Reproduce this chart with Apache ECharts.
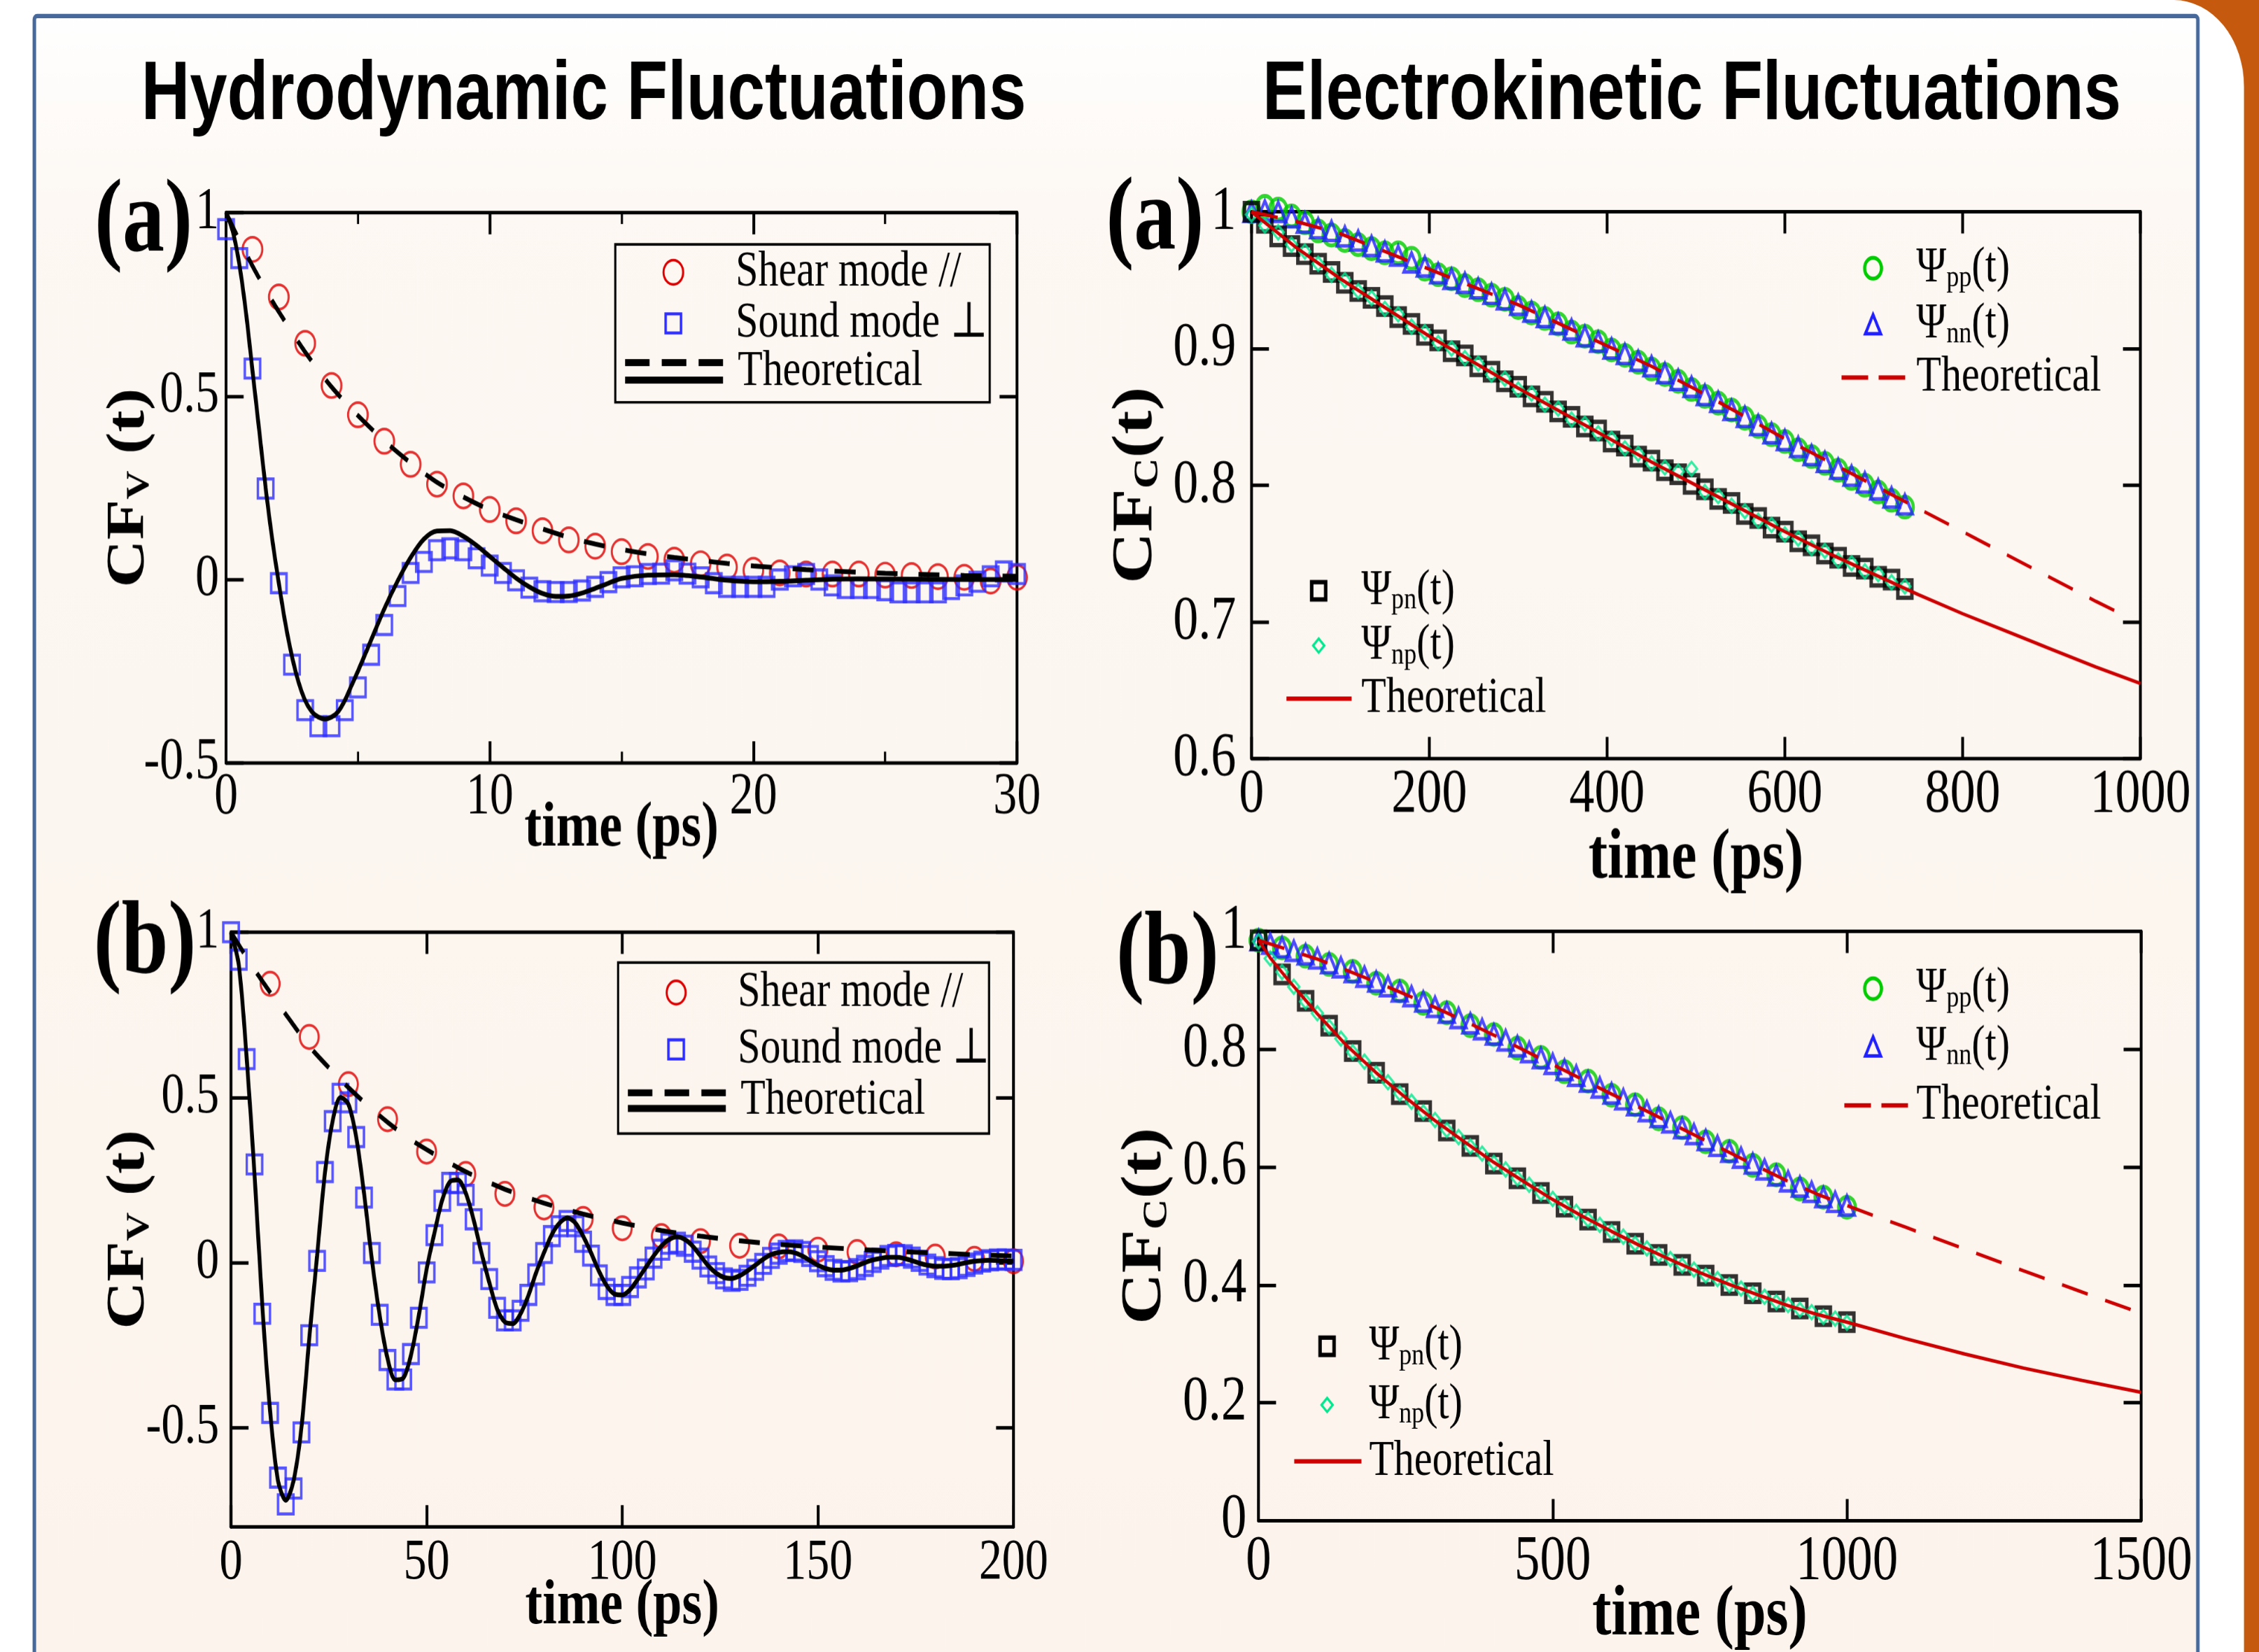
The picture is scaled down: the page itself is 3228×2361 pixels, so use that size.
<!DOCTYPE html>
<html>
<head>
<meta charset="utf-8">
<script src="https://cdn.jsdelivr.net/npm/echarts@6/dist/echarts.min.js"></script>
<style>
  html, body { margin: 0; padding: 0; background: #fff; }
  #wrap { width: 3228px; height: 2361px; overflow: hidden; position: relative; }
  /* the source figure is stretched vertically, so draw flat and stretch */
  #chart { width: 3228px; height: 1904px; transform: scaleY(1.24); transform-origin: 0 0; }
</style>
</head>
<body>
<div id="wrap"><div id="chart"></div></div>
<script>
const SERIF = "'Liberation Serif', 'DejaVu Serif', serif"
const SANS = "'Liberation Sans', Arial, sans-serif"

// ---- Hydrodynamic (a): 0-30 ps ----
const tShearA = [1,2,3,4,5,6,7,8,9,10,11,12,13,14,15,16,17,18,19,20,21,22,23,24,25,26,27,28,29,30]
const shearA = [0.90,0.77,0.644,0.529,0.449,0.377,0.314,0.26,0.228,0.191,0.16,0.133,0.108,0.091,0.076,0.063,0.053,0.043,0.034,0.025,0.018,0.015,0.015,0.015,0.012,0.011,0.008,0.006,-0.004,0.006]
const tSoundA = [0,0.5,1,1.5,2,2.5,3,3.5,4,4.5,5,5.5,6,6.5,7,7.5,8,8.5,9,9.5,10,10.5,11,11.5,12,12.5,13,13.5,14,14.5,15,15.5,16,16.5,17,17.5,18,18.5,19,19.5,20,20.5,21,21.5,22,22.5,23,23.5,24,24.5,25,25.5,26,26.5,27,27.5,28,28.5,29,29.5,30]
const soundA = [0.955,0.876,0.575,0.248,-0.01,-0.232,-0.356,-0.40,-0.40,-0.356,
  -0.294,-0.205,-0.124,-0.045,0.018,0.048,0.08,0.085,0.08,0.058,
  0.038,0.018,-0.002,-0.022,-0.032,-0.034,-0.034,-0.03,-0.02,-0.007,
  0.006,0.009,0.015,0.016,0.025,0.016,0.006,-0.01,-0.02,-0.02,
  -0.02,-0.02,0,0.009,0.015,0,-0.016,-0.023,-0.023,-0.023,
  -0.029,-0.035,-0.035,-0.035,-0.035,-0.026,-0.016,-0.006,0.009,0.022,0.015]
const tShearThA = [0,0.5,1,1.5,2,3,4,5,6,7,8,9,10,11,12,13,14,15,16,17,18,19,20,21,22,23,24,25,26,27,28,29,30]
const shearThA = [1.0,0.925,0.855,0.79,0.73,0.62,0.525,0.447,0.378,0.318,0.265,0.225,0.19,0.163,0.138,0.115,0.097,0.082,0.07,0.06,0.052,0.044,0.037,0.032,0.027,0.023,0.02,0.017,0.015,0.013,0.011,0.01,0.009]
const tSoundThA = [0,0.25,0.5,0.75,1,1.25,1.5,1.75,2,2.25,2.5,2.75,3,3.25,3.5,3.75,4,4.25,4.5,4.75,5,5.5,6,6.5,7,7.5,8,8.5,9,9.5,10,10.5,11,11.5,12,12.5,13,13.5,14,14.5,15,16,17,18,19,20,21,22,23,24,26,28,30]
const soundThA = [1.0,0.95,0.86,0.73,0.57,0.41,0.25,0.11,-0.01,-0.12,-0.21,-0.28,-0.33,-0.36,-0.375,-0.38,-0.375,-0.36,-0.33,-0.29,
  -0.25,-0.165,-0.08,-0.005,0.06,0.11,0.132,0.133,0.118,0.093,0.063,0.033,0.004,-0.02,-0.038,-0.046,-0.045,-0.037,-0.024,-0.01,0.003,
  0.012,0.013,0.007,-0.002,-0.006,-0.005,-0.002,0.001,0.002,0.001,0,0]

// ---- Hydrodynamic (b): 0-200 ps ----
const tShearB = [10,20,30,40,50,60,70,80,90,100,110,120,130,140,150,160,170,180,190,200]
const shearB = [0.844,0.683,0.54,0.434,0.336,0.268,0.208,0.167,0.132,0.104,0.08,0.065,0.051,0.049,0.039,0.032,0.025,0.018,0.011,0.004]
const tSoundB = [0,2,4,6,8,10,12,14,16,18,20,22,24,26,28,30,32,34,36,38,
  40,42,44,46,48,50,52,54,56,58,60,62,64,66,68,70,72,74,76,78,
  80,82,84,86,88,90,92,94,96,98,100,102,104,106,108,110,112,114,116,118,
  120,122,124,126,128,130,132,134,136,138,140,142,144,146,148,150,152,154,156,158,
  160,162,164,166,168,170,172,174,176,178,180,182,184,186,188,190,192,194,196,198,200]
const soundB = [1.0,0.917,0.616,0.297,-0.155,-0.455,-0.651,-0.732,-0.684,-0.514,
  -0.22,0.005,0.274,0.428,0.511,0.485,0.38,0.197,0.029,-0.158,
  -0.295,-0.354,-0.354,-0.277,-0.167,-0.03,0.083,0.187,0.241,0.241,
  0.205,0.131,0.029,-0.05,-0.137,-0.175,-0.175,-0.146,-0.098,-0.036,
  0.029,0.08,0.11,0.126,0.11,0.063,0.021,-0.039,-0.08,-0.098,
  -0.098,-0.074,-0.045,-0.021,0.015,0.039,0.057,0.06,0.051,0.033,
  0.012,-0.012,-0.032,-0.048,-0.055,-0.052,-0.04,-0.022,-0.004,0.014,
  0.027,0.035,0.037,0.032,0.02,0.004,-0.011,-0.022,-0.027,-0.026,
  -0.02,-0.01,0.002,0.012,0.02,0.023,0.022,0.015,0.005,-0.006,
  -0.014,-0.019,-0.02,-0.017,-0.01,-0.003,0.003,0.007,0.009,0.009,0.008]
const tShearThB = [0,5,10,15,20,25,30,35,40,45,50,60,70,80,90,100,110,120,130,140,150,160,170,180,190,200]
const shearThB = [1.0,0.905,0.818,0.735,0.655,0.59,0.53,0.475,0.425,0.38,0.342,0.275,0.222,0.18,0.147,0.12,0.097,0.08,0.066,0.055,0.047,0.04,0.034,0.029,0.024,0.02]
const soundThB = [1.0,0.90,0.62,0.27,-0.13,-0.45,-0.66,-0.72,-0.66,-0.50,
  -0.23,0.02,0.27,0.43,0.50,0.48,0.38,0.21,0.01,-0.16,
  -0.29,-0.355,-0.35,-0.28,-0.16,-0.02,0.09,0.19,0.245,0.25,
  0.21,0.13,0.03,-0.06,-0.14,-0.18,-0.185,-0.155,-0.10,-0.03,
  0.03,0.085,0.12,0.135,0.12,0.08,0.03,-0.025,-0.07,-0.095,
  -0.098,-0.082,-0.05,-0.015,0.02,0.05,0.07,0.078,0.07,0.05,
  0.02,-0.01,-0.032,-0.045,-0.048,-0.04,-0.025,-0.008,0.01,0.024,
  0.031,0.033,0.03,0.02,0.006,-0.008,-0.018,-0.023,-0.023,-0.018,
  -0.01,0.0,0.008,0.013,0.016,0.016,0.013,0.006,-0.002,-0.008,
  -0.011,-0.011,-0.009,-0.005,0.0,0.004,0.006,0.007,0.006,0.005,0.004]

// ---- Electrokinetic (a): 0-1000 ps ----
const tC = [0,15,30,45,60,75,90,105,120,135,150,165,180,195,210,225,240,255,270,285,300,315,330,345,360,375,390,405,420,435,450,465,480,495,510,525,540,555,570,585,600,615,630,645,660,675,690,705,720,735]
const ppC = [1.000,1.004,1.002,0.997,0.992,0.986,0.983,0.979,0.976,0.973,0.970,0.970,0.966,0.958,0.954,0.951,0.946,0.943,0.939,0.936,0.930,0.926,0.922,0.918,0.912,0.909,0.905,0.899,0.895,0.890,0.885,0.881,0.876,0.870,0.865,0.860,0.855,0.849,0.843,0.837,0.832,0.826,0.821,0.816,0.811,0.805,0.800,0.795,0.789,0.784]
const nnC = [1.000,1.001,1.000,0.996,0.992,0.988,0.986,0.982,0.979,0.975,0.971,0.968,0.963,0.960,0.955,0.951,0.948,0.944,0.940,0.936,0.932,0.927,0.923,0.918,0.914,0.909,0.905,0.900,0.896,0.891,0.887,0.882,0.877,0.872,0.866,0.861,0.855,0.850,0.844,0.838,0.833,0.828,0.822,0.817,0.812,0.807,0.802,0.797,0.791,0.786]
const pnC = [1.000,0.992,0.982,0.975,0.969,0.962,0.956,0.948,0.942,0.937,0.931,0.923,0.918,0.910,0.906,0.898,0.895,0.887,0.883,0.876,0.872,0.865,0.861,0.854,0.850,0.843,0.840,0.832,0.829,0.821,0.818,0.811,0.808,0.801,0.797,0.790,0.787,0.779,0.776,0.769,0.766,0.759,0.756,0.750,0.747,0.741,0.739,0.733,0.731,0.724]
const npC = [0.998,0.990,0.985,0.976,0.971,0.962,0.954,0.950,0.942,0.937,0.929,0.925,0.916,0.912,0.904,0.900,0.893,0.889,0.881,0.878,0.870,0.867,0.859,0.856,0.848,0.845,0.838,0.834,0.827,0.823,0.816,0.813,0.810,0.812,0.795,0.792,0.785,0.781,0.774,0.771,0.764,0.761,0.754,0.752,0.745,0.743,0.737,0.735,0.729,0.726]
const tUpThC = [0,50,100,150,200,250,300,350,400,450,500,550,600,650,700,750,800,850,900,950,975]
const upThC = [1.0,0.993,0.984,0.971,0.958,0.945,0.932,0.917,0.902,0.887,0.870,0.852,0.834,0.817,0.800,0.783,0.766,0.749,0.732,0.715,0.707]
const tLowThC = [0,50,100,150,200,250,300,350,400,450,500,550,600,650,700,750,800,850,900,950,1000]
const lowThC = [1.0,0.974,0.951,0.930,0.909,0.890,0.871,0.853,0.835,0.817,0.800,0.783,0.766,0.750,0.735,0.720,0.706,0.693,0.680,0.667,0.655]

// ---- Electrokinetic (b): 0-1500 ps ----
const tD40 = [0,40,80,120,160,200,240,280,320,360,400,440,480,520,560,600,640,680,720,760,800,840,880,920,960,1000]
const tD20 = [0,20,40,60,80,100,120,140,160,180,200,220,240,260,280,300,320,340,360,380,400,420,440,460,480,500,520,540,560,580,600,620,640,660,680,700,720,740,760,780,800,820,840,860,880,900,920,940,960,980,1000]
const ppD = [0.985,0.972,0.958,0.944,0.932,0.912,0.899,0.878,0.862,0.840,0.825,0.802,0.786,0.762,0.746,0.722,0.706,0.682,0.667,0.643,0.627,0.603,0.587,0.563,0.549,0.532]
const nnD = [0.985,0.979,0.973,0.967,0.961,0.954,0.946,0.939,0.931,0.923,0.915,0.907,0.898,0.890,0.881,0.872,0.862,0.853,0.844,0.834,0.825,0.815,0.805,0.795,0.785,0.775,0.765,0.755,0.745,0.735,0.725,0.715,0.705,0.695,0.685,0.676,0.666,0.656,0.646,0.636,0.626,0.616,0.606,0.596,0.586,0.576,0.567,0.558,0.549,0.541,0.535]
const pnD = [0.985,0.927,0.882,0.840,0.797,0.760,0.724,0.695,0.662,0.636,0.606,0.581,0.556,0.533,0.511,0.490,0.470,0.451,0.434,0.416,0.400,0.386,0.372,0.360,0.347,0.337]
const npD = [0.983,0.954,0.931,0.906,0.881,0.861,0.838,0.818,0.795,0.779,0.759,0.744,0.725,0.711,0.693,0.680,0.663,0.651,0.635,0.623,0.607,0.596,0.581,0.570,0.556,0.546,0.533,0.524,0.511,0.502,0.490,0.482,0.470,0.462,0.451,0.444,0.433,0.426,0.416,0.410,0.400,0.394,0.385,0.380,0.371,0.366,0.358,0.354,0.346,0.343,0.336]
const tUpThD = [0,50,100,150,200,250,300,350,400,450,500,550,600,650,700,750,800,850,900,950,1000,1050,1100,1200,1300,1400,1500]
const upThD = [0.985,0.969,0.953,0.934,0.914,0.893,0.871,0.848,0.824,0.799,0.774,0.749,0.724,0.700,0.675,0.650,0.625,0.600,0.576,0.554,0.535,0.516,0.498,0.461,0.424,0.388,0.352]
const tLowThD = [0,20,50,100,150,200,250,300,350,400,450,500,550,600,650,700,750,800,850,900,950,1000,1100,1200,1300,1400,1500]
const lowThD = [0.985,0.955,0.918,0.860,0.806,0.760,0.718,0.679,0.643,0.608,0.576,0.545,0.517,0.491,0.466,0.443,0.421,0.401,0.383,0.365,0.350,0.337,0.309,0.283,0.259,0.238,0.218]

// colours
const RED = '#dd0000', BLUE = '#2d2dff', GREEN = '#00cc00', TRI = '#2020ff', MINT = '#00e890', THRED = '#cc0000'

const pts = (xs, ys) => xs.map((x, i) => [x, ys[i]])

// grids in flat (unstretched) pixels
const grids = [
  { left: 323, top: 245, width: 1130, height: 634 },
  { left: 330, top: 1074, width: 1118, height: 685 },
  { left: 1788, top: 244, width: 1270, height: 630 },
  { left: 1798, top: 1073, width: 1261, height: 680 }
]

const panels = [
  { x: [0, 30, 10], y: [-0.5, 1, 0.5], label: 68, xMargin: 6, yMargin: 10, nameSize: 74, xGap: 39, ySize: 76, yGap: 100, sub: 'V', sp: ' ', minorX: true },
  { x: [0, 200, 50], y: [-0.8, 1], yTicks: [-0.5, 0, 0.5, 1], label: 66, xMargin: 9, yMargin: 17, nameSize: 74, xGap: 55, ySize: 76, yGap: 107, sub: 'V', sp: ' ' },
  { x: [0, 1000, 200], y: [0.6, 1, 0.1], label: 72, xMargin: 6, yMargin: 22, nameSize: 82, xGap: 75, ySize: 82, yGap: 123, sub: 'C', sp: '' },
  { x: [0, 1500, 500], y: [0, 1, 0.2], label: 73, xMargin: 12, yMargin: 17, nameSize: 82, xGap: 69, ySize: 82, yGap: 120, sub: 'C', sp: '' }
]

const plain = v => String(v)   // no thousands separator

const xAxes = [], yAxes = []
panels.forEach((p, g) => {
  const line = { onZero: false, lineStyle: { color: '#000', width: 4 } }
  const tick = { inside: true, length: 25, lineStyle: { color: '#000', width: 4 } }
  const minor = p.minorX ? { show: true, splitNumber: 2, length: 13, lineStyle: { color: '#000', width: 3 } } : { show: false }
  const xBase = { gridIndex: g, type: 'value', min: p.x[0], max: p.x[1], interval: p.x[2], axisLine: line, axisTick: tick, minorTick: minor, splitLine: { show: false } }
  xAxes.push({ ...xBase, position: 'bottom',
    axisLabel: { color: '#000', fontFamily: SERIF, fontSize: p.label, margin: p.xMargin, formatter: plain },
    name: 'time (ps)', nameLocation: 'middle', nameGap: p.xGap, nameMoveOverlap: false,
    nameTextStyle: { color: '#000', fontFamily: SERIF, fontWeight: 'bold', fontSize: p.nameSize } })
  xAxes.push({ ...xBase, position: 'top', axisLabel: { show: false } })

  const yBase = { gridIndex: g, type: 'value', min: p.y[0], max: p.y[1], axisLine: line, axisTick: tick, splitLine: { show: false } }
  if (p.yTicks) {
    yBase.splitNumber = 4
    yBase.axisTick = { ...tick, customValues: p.yTicks }
  } else {
    yBase.interval = p.y[2]
  }
  const yLabel = { color: '#000', fontFamily: SERIF, fontSize: p.label, margin: p.yMargin, formatter: plain }
  if (p.yTicks) yLabel.customValues = p.yTicks
  yAxes.push({ ...yBase, position: 'left', axisLabel: yLabel,
    name: 'CF{s|' + p.sub + '}' + p.sp + '(t)', nameLocation: 'middle', nameGap: p.yGap, nameMoveOverlap: false,
    nameTextStyle: { color: '#000', fontFamily: SERIF, fontWeight: 'bold', fontSize: p.ySize,
      rich: { s: { color: '#000', fontFamily: SERIF, fontWeight: 'bold', fontSize: Math.round(p.ySize * 0.6), lineHeight: 30, verticalAlign: 'bottom' } } } })
  yAxes.push({ ...yBase, position: 'right', axisLabel: { show: false } })
})

// hollow markers for the simulation data (bottom x axis / left y axis of grid g)
function marker(name, g, xs, ys, symbol, size, color, bw) {
  return {
    type: 'scatter', name, xAxisIndex: 2 * g, yAxisIndex: 2 * g, data: pts(xs, ys),
    symbol, symbolSize: size, clip: false, silent: true, z: 2,
    itemStyle: { color: 'rgba(0,0,0,0)', borderColor: color, borderWidth: bw }
  }
}
// theoretical curves
function theory(name, g, xs, ys, color, width, dash, smooth) {
  return {
    type: 'line', name, xAxisIndex: 2 * g, yAxisIndex: 2 * g, data: pts(xs, ys),
    showSymbol: false, symbol: 'none', smooth: smooth ? 0.3 : false, silent: true, z: 3,
    lineStyle: { color, width, type: dash || 'solid' }
  }
}

const series = [
  marker('Shear mode //', 0, tShearA, shearA, 'circle', 28, RED, 3),
  marker('Sound mode ⊥', 0, tSoundA, soundA, 'rect', 22, BLUE, 3.5),
  theory('Theoretical (shear)', 0, tShearThA, shearThA, '#000', 5.5, [30, 30], true),
  theory('Theoretical (sound)', 0, tSoundThA, soundThA, '#000', 5.5, null, true),

  marker('Shear mode //', 1, tShearB, shearB, 'circle', 27, RED, 3),
  marker('Sound mode ⊥', 1, tSoundB, soundB, 'rect', 22, BLUE, 3.5),
  theory('Theoretical (shear)', 1, tShearThB, shearThB, '#000', 5.5, [30, 30], true),
  theory('Theoretical (sound)', 1, tSoundB, soundThB, '#000', 5.5, null, true),

  marker('Ψpp(t)', 2, tC, ppC, 'circle', 24, GREEN, 4.5),
  marker('Ψnn(t)', 2, tC, nnC, 'triangle', 22, TRI, 4),
  marker('Ψpn(t)', 2, tC, pnC, 'rect', 20, '#000', 5),
  marker('Ψnp(t)', 2, tC, npC, 'diamond', 16, MINT, 3),
  theory('Theoretical (pp, nn)', 2, tUpThC, upThC, THRED, 4, [38, 26]),
  theory('Theoretical (pn, np)', 2, tLowThC, lowThC, THRED, 4),

  marker('Ψpp(t)', 3, tD40, ppD, 'circle', 24, GREEN, 4.5),
  marker('Ψnn(t)', 3, tD20, nnD, 'triangle', 22, TRI, 4),
  marker('Ψpn(t)', 3, tD40, pnD, 'rect', 20, '#000', 5),
  marker('Ψnp(t)', 3, tD20, npD, 'diamond', 16, MINT, 3),
  theory('Theoretical (pp, nn)', 3, tUpThD, upThD, THRED, 4, [38, 26]),
  theory('Theoretical (pn, np)', 3, tLowThD, lowThD, THRED, 4)
]

// ---- frame, titles, panel letters and legends ----
const txt = (x, y, text, size, extra) => ({
  type: 'text', x, y, z: 10, silent: true,
  style: Object.assign({ text, fontFamily: SERIF, fontSize: size, fill: '#000', align: 'left', verticalAlign: 'middle' }, extra || {})
})
const hline = (x1, x2, y, color, w, dash) => ({
  type: 'line', z: 10, silent: true, shape: { x1, y1: y, x2, y2: y },
  style: { stroke: color, lineWidth: w, lineDash: dash || null }
})
const psiRich = {
  p: { fontFamily: SERIF, fontSize: 58, lineHeight: 58, fill: '#000' },
  s: { fontFamily: SERIF, fontSize: 36, lineHeight: 22, verticalAlign: 'bottom', fill: '#000' }
}
const psi = (x, y, sub) => txt(x, y, '{p|Ψ}{s|' + sub + '}{p|(t)}', 58, { rich: psiRich })
const circ = (cx, cy, r, color, w) => ({ type: 'circle', z: 10, silent: true, shape: { cx, cy, r }, style: { fill: 'none', stroke: color, lineWidth: w } })
const sq = (cx, cy, s, color, w) => ({ type: 'rect', z: 10, silent: true, shape: { x: cx - s / 2, y: cy - s / 2, width: s, height: s }, style: { fill: 'none', stroke: color, lineWidth: w } })
const tri = (cx, cy, s, color, w) => ({ type: 'polygon', z: 10, silent: true, shape: { points: [[cx, cy - s / 2], [cx + s / 2, cy + s / 2], [cx - s / 2, cy + s / 2]] }, style: { fill: 'none', stroke: color, lineWidth: w } })
const dia = (cx, cy, s, color, w) => ({ type: 'polygon', z: 10, silent: true, shape: { points: [[cx, cy - s / 2], [cx + s / 2, cy], [cx, cy + s / 2], [cx - s / 2, cy]] }, style: { fill: 'none', stroke: color, lineWidth: w } })

const graphic = [
  // page frame
  { type: 'rect', z: -100, silent: true, shape: { x: 0, y: 0, width: 3228, height: 1904 }, style: { fill: '#fff' } },
  { type: 'rect', z: -99, silent: true, shape: { x: 3080, y: 0, width: 148, height: 1904 }, style: { fill: '#c55a0e' } },
  { type: 'rect', z: -98, silent: true, shape: { x: 2900, y: 0, width: 306, height: 1904, r: [0, 100, 0, 0] }, style: { fill: '#fff' } },
  { type: 'rect', z: -97, silent: true, shape: { x: 49, y: 18.5, width: 3091, height: 1920, r: [4, 4, 0, 0] },
    style: { stroke: '#46689a', lineWidth: 5,
      fill: new echarts.graphic.LinearGradient(0, 0, 0, 1, [
        { offset: 0, color: '#ffffff' }, { offset: 0.12, color: '#fdf8f3' }, { offset: 1, color: '#fcf4ec' }]) } },

  // column titles
  txt(834, 111, 'Hydrodynamic Fluctuations', 96, { fontFamily: SANS, fontWeight: 'bold', align: 'center' }),
  txt(2417, 111, 'Electrokinetic Fluctuations', 96, { fontFamily: SANS, fontWeight: 'bold', align: 'center' }),

  // panel letters
  txt(205, 258, '(a)', 120, { fontWeight: 'bold', align: 'center' }),
  txt(207, 1089, '(b)', 120, { fontWeight: 'bold', align: 'center' }),
  txt(1650, 255, '(a)', 120, { fontWeight: 'bold', align: 'center' }),
  txt(1668, 1101, '(b)', 120, { fontWeight: 'bold', align: 'center' }),

  // legend, hydrodynamic (a)
  { type: 'rect', z: 9, silent: true, shape: { x: 879, y: 281.5, width: 535, height: 182 }, style: { fill: 'none', stroke: '#000', lineWidth: 3 } },
  circ(962, 313.7, 14, RED, 3), txt(1051, 313.7, 'Shear mode //', 58),
  sq(962, 372.6, 22, BLUE, 3.5), txt(1051, 372.6, 'Sound mode ⊥', 58),
  hline(893, 1033, 417.7, '#000', 8, [35, 17.5]), hline(893, 1033, 437.9, '#000', 8),
  txt(1054, 428, 'Theoretical', 58),

  // legend, hydrodynamic (b)
  { type: 'rect', z: 9, silent: true, shape: { x: 883, y: 1109, width: 530, height: 197 }, style: { fill: 'none', stroke: '#000', lineWidth: 3 } },
  circ(966, 1143.5, 13.5, RED, 3), txt(1054, 1143.5, 'Shear mode //', 58),
  sq(966, 1209, 22, BLUE, 3.5), txt(1054, 1209, 'Sound mode ⊥', 58),
  hline(897, 1037, 1259, '#000', 8, [35, 17.5]), hline(897, 1037, 1277, '#000', 8),
  txt(1058, 1268, 'Theoretical', 58),

  // legends, electrokinetic (a)
  circ(2676, 309, 12, GREEN, 4.5), psi(2738, 309, 'pp'),
  tri(2676, 373.5, 22, TRI, 4), psi(2738, 373.5, 'nn'),
  hline(2631, 2722, 435, THRED, 5, [38, 15]), txt(2738, 435, 'Theoretical', 58),
  sq(1884, 680.6, 20, '#000', 5), psi(1945, 680.6, 'pn'),
  dia(1884, 743.8, 16, MINT, 3), psi(1945, 743.8, 'np'),
  hline(1838, 1931, 805, THRED, 5), txt(1945, 805, 'Theoretical', 58),

  // legends, electrokinetic (b)
  circ(2676, 1139, 12, GREEN, 4.5), psi(2738, 1139, 'pp'),
  tri(2676, 1205.5, 22, TRI, 4), psi(2738, 1205.5, 'nn'),
  hline(2635, 2728, 1273.5, THRED, 5, [38, 15]), txt(2738, 1273.5, 'Theoretical', 58),
  sq(1896, 1551, 20, '#000', 5), psi(1956, 1551, 'pn'),
  dia(1896, 1618.6, 16, MINT, 3), psi(1956, 1618.6, 'np'),
  hline(1849, 1945, 1683.6, THRED, 5), txt(1956, 1683.6, 'Theoretical', 58)
]

const chart = echarts.init(document.getElementById('chart'), null, { renderer: 'canvas', devicePixelRatio: 1.24 })
chart.setOption({
  animation: false,
  backgroundColor: 'transparent',
  grid: grids,
  xAxis: xAxes,
  yAxis: yAxes,
  series,
  graphic
})
</script>
</body>
</html>
